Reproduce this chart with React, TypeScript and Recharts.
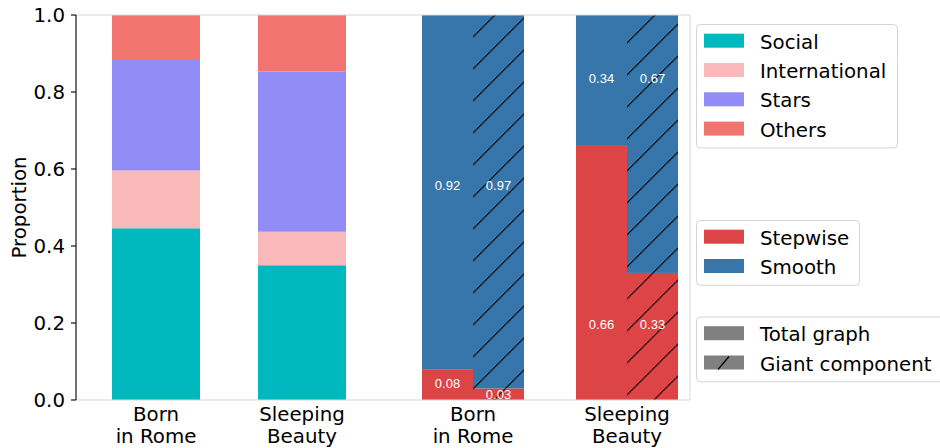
import React from 'react';
import { BarChart, Bar, XAxis, YAxis, ReferenceLine, Label } from 'recharts';

// ---------- data ----------
const categories = ['Born\nin Rome', 'Sleeping\nBeauty'];

// left panel: topic composition
const social = [0.446, 0.35];
const international = [0.15, 0.087];
const stars = [0.287, 0.416];
const others = [0.117, 0.147];

// right panel: stepwise vs smooth (total graph / giant component)
const stepwiseTotal = [0.08, 0.66];
const smoothTotal = [0.92, 0.34];
const stepwiseGiant = [0.03, 0.33];
const smoothGiant = [0.97, 0.67];

// heights (in proportion units) at which the value labels are written
const stepLabelAtTotal = [0.044, 0.195];
const stepLabelAtGiant = [0.013, 0.195];
const smoothLabelAt = [0.558, 0.834];

const yTicks = [0, 0.2, 0.4, 0.6, 0.8, 1.0];

// ---------- styles ----------
const COLORS = {
  social: '#00B8BE',
  international: '#F9B9BB',
  stars: '#918CF6',
  others: '#F1746E',
  stepwise: '#DC4446',
  smooth: '#3776AB',
  gray: '#808080',
};
const FONT = "'DejaVu Sans', sans-serif";
const FS = 19.8;
const LFS = 19.8;
const FRAME = '#d6d6d6';

const rows = [
  ...categories.map((name, i) => ({
    name,
    social: social[i],
    international: international[i],
    stars: stars[i],
    others: others[i],
    stepT: 0,
    smoothT: 0,
    stepG: 0,
    smoothG: 0,
    stepLabelT: 0,
    stepLabelG: 0,
    smoothLabel: 0,
  })),
  ...categories.map((name, i) => ({
    name,
    social: 0,
    international: 0,
    stars: 0,
    others: 0,
    stepT: stepwiseTotal[i],
    smoothT: smoothTotal[i],
    stepG: stepwiseGiant[i],
    smoothG: smoothGiant[i],
    stepLabelT: stepLabelAtTotal[i],
    stepLabelG: stepLabelAtGiant[i],
    smoothLabel: smoothLabelAt[i],
  })),
];

const makeShape = (kind: 'step' | 'smooth', part: 'T' | 'G') => (props: any) => {
  const { x, y, width, height, payload } = props;
  if (!payload) return null;
  const v = payload[kind + part];
  if (!(v > 0) || !(height > 0)) return null;
  const per = height / v;
  let ty: number;
  if (kind === 'step') {
    const at = payload['stepLabel' + part];
    ty = y + height - at * per;
  } else {
    const at = payload.smoothLabel;
    ty = y + (1 - at) * per;
  }
  const fill = kind === 'step' ? COLORS.stepwise : COLORS.smooth;
  return (
    <g>
      <rect x={x} y={y} width={width} height={height} fill={fill} />
      {part === 'G' && <rect x={x} y={y} width={width} height={height} fill="url(#giantHatch)" />}
      <text
        x={x + width / 2}
        y={ty}
        textAnchor="middle"
        dominantBaseline="central"
        fill="#ffffff"
        fontSize={13}
        fontFamily="'Liberation Sans', Arial, sans-serif"
      >
        {v.toFixed(2)}
      </text>
    </g>
  );
};

const makeTick = (show: number[]) => (props: any) => {
  const { x, y, payload, index } = props;
  if (!show.includes(index)) return null;
  const lines = String(payload.value).split('\n');
  return (
    <text x={x} y={y} textAnchor="middle" fill="#000" fontSize={FS} fontFamily={FONT}>
      {lines.map((l, i) => (
        <tspan key={i} x={x} dy={i === 0 ? 21 : 22}>
          {l}
        </tspan>
      ))}
    </text>
  );
};

const legendGroups = [
  {
    top: 24,
    width: 201,
    items: [
      ['Social', COLORS.social, false],
      ['International', COLORS.international, false],
      ['Stars', COLORS.stars, false],
      ['Others', COLORS.others, false],
    ],
  },
  {
    top: 220,
    width: 163,
    items: [
      ['Stepwise', COLORS.stepwise, false],
      ['Smooth', COLORS.smooth, false],
    ],
  },
  {
    top: 316.5,
    width: 270,
    items: [
      ['Total graph', COLORS.gray, false],
      ['Giant component', COLORS.gray, true],
    ],
  },
] as const;

const Legends = () => (
  <svg
    width={940}
    height={448}
    style={{ position: 'absolute', left: 0, top: 0, pointerEvents: 'none' }}
  >
    {legendGroups.map((g, gi) => {
      const h = 16.5 + (g.items.length - 1) * 29.3 + 19;
      return (
        <g key={gi}>
          <rect
            x={696.5}
            y={g.top + 0.5}
            width={g.width}
            height={h}
            rx={4}
            fill="#fff"
            stroke="#d4d4d4"
            strokeWidth={1}
          />
          {g.items.map((it, i) => {
            const cy = g.top + 16.7 + i * 29.3;
            return (
              <g key={i}>
                <rect x={704} y={cy - 7} width={40} height={14} fill={it[1] as string} />
                {it[2] && (
                  <line x1={718} y1={cy + 7} x2={729} y2={cy - 6} stroke="#000" strokeWidth={1.2} />
                )}
                <text x={760} y={cy + 8} fontSize={LFS} fontFamily={FONT} fill="#000">
                  {it[0] as string}
                </text>
              </g>
            );
          })}
        </g>
      );
    })}
  </svg>
);

export default function App() {
  return (
    <div style={{ position: 'absolute', left: 0, top: 0, width: 940, height: 448, background: '#fff', fontFamily: FONT }}>
      <svg width={0} height={0} style={{ position: 'absolute', left: 0, top: 0 }}>
        <defs>
          <pattern
            id="giantHatch"
            patternUnits="userSpaceOnUse"
            width={32}
            height={32}
            patternTransform="translate(-2 0)"
          >
            <path d="M0 32 L32 0 M-2 2 L2 -2 M30 34 L34 30" stroke="#000" strokeWidth={1.2} />
          </pattern>
        </defs>
      </svg>
      <BarChart
        width={940}
        height={448}
        data={rows}
        margin={{ top: 15, right: 250, bottom: 48, left: 0 }}
        barGap={0}
        barCategoryGap={0}
      >
        <XAxis
          xAxisId="a"
          dataKey="name"
          height={0.001}
          padding={{ left: 7, right: 23 }}
          axisLine={{ stroke: FRAME }}
          tickLine={false}
          tickSize={0}
          tickMargin={0}
          interval={0}
          tick={makeTick([0, 1])}
        />
        <XAxis
          xAxisId="b"
          dataKey="name"
          height={0.001}
          padding={{ left: 12, right: -14 }}
          axisLine={false}
          tickLine={false}
          tickSize={0}
          tickMargin={0}
          interval={0}
          tick={makeTick([2, 3])}
        />
        <YAxis
          domain={[0, 1]}
          ticks={yTicks}
          tickFormatter={(v: number) => v.toFixed(1)}
          width={76}
          axisLine={{ stroke: '#000', strokeWidth: 1.1 }}
          tickLine={{ stroke: '#000', strokeWidth: 1.1 }}
          tickSize={5}
          tickMargin={6}
          tick={{ fill: '#000', fontSize: FS, fontFamily: FONT }}
          label={
            <Label
              content={(p: any) => {
                const vb = p.viewBox || { x: 0, y: 15, width: 76, height: 385 };
                const cx = vb.x + 26.5;
                const cy = vb.y + vb.height / 2;
                return (
                  <text
                    x={cx}
                    y={cy}
                    transform={`rotate(-90 ${cx} ${cy})`}
                    textAnchor="middle"
                    fill="#000"
                    fontSize={FS}
                    fontFamily={FONT}
                  >
                    Proportion
                  </text>
                );
              }}
            />
          }
        />
        <YAxis
          yAxisId="r"
          orientation="right"
          domain={[0, 1]}
          width={0.001}
          tick={false}
          tickLine={false}
          axisLine={{ stroke: FRAME }}
        />
        <ReferenceLine y={1} xAxisId="a" stroke={FRAME} />

        <Bar xAxisId="a" dataKey="social" stackId="a" fill={COLORS.social} barSize={88} isAnimationActive={false} />
        <Bar xAxisId="a" dataKey="international" stackId="a" fill={COLORS.international} barSize={88} isAnimationActive={false} />
        <Bar xAxisId="a" dataKey="stars" stackId="a" fill={COLORS.stars} barSize={88} isAnimationActive={false} />
        <Bar xAxisId="a" dataKey="others" stackId="a" fill={COLORS.others} barSize={88} isAnimationActive={false} />

        <Bar xAxisId="b" dataKey="stepT" stackId="t" barSize={51} shape={makeShape('step', 'T')} isAnimationActive={false} />
        <Bar xAxisId="b" dataKey="smoothT" stackId="t" barSize={51} shape={makeShape('smooth', 'T')} isAnimationActive={false} />
        <Bar xAxisId="b" dataKey="stepG" stackId="g" barSize={51} shape={makeShape('step', 'G')} isAnimationActive={false} />
        <Bar xAxisId="b" dataKey="smoothG" stackId="g" barSize={51} shape={makeShape('smooth', 'G')} isAnimationActive={false} />
      </BarChart>
      <Legends />
    </div>
  );
}
